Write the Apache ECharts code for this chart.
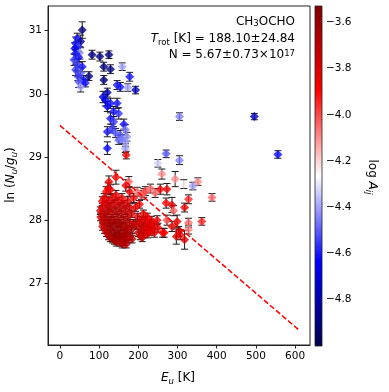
<!DOCTYPE html>
<html>
<head>
<meta charset="utf-8">
<script src="https://cdn.jsdelivr.net/npm/echarts@6/dist/echarts.min.js"></script>
<style>
html,body{margin:0;padding:0;background:#fff;}
#chart{width:389px;height:392px;}
</style>
</head>
<body>
<div id="chart"></div>
<script>
// rows: [E_u (K), ln(Nu/gu), error, log A_ij]
let upperBlue=[
    [57,31.01,0.13,-4.9],
    [44,30.88,0.08,-4.6],[53,30.83,0.10,-4.85],[40,30.80,0.10,-4.6],[47,30.75,0.08,-4.55],[38,30.72,0.09,-4.65],
    [51,30.65,0.10,-4.4],[40,30.64,0.10,-4.6],[36,30.54,0.09,-4.55],[48,30.58,0.08,-4.6],
    [44,30.46,0.09,-4.55],[57,30.43,0.08,-4.6],[40,30.38,0.09,-4.55],[53,30.33,0.08,-4.5],[46,30.28,0.07,-4.55],
    [60,30.22,0.07,-4.6],[48,30.19,0.09,-4.5],[53,30.11,0.08,-4.4],[65,30.17,0.06,-4.6],[74,30.28,0.07,-4.9],
    [82,30.62,0.07,-4.9],[102,30.59,0.07,-4.9],[125,30.62,0.06,-4.9],[112,30.43,0.07,-4.9],[129,30.39,0.07,-4.9],
    [112,30.22,0.07,-4.9],
    [159,30.43,0.06,-4.4],[178,30.27,0.07,-4.6],[154,30.11,0.07,-4.6],[173,30.10,0.06,-4.4],[193,30.06,0.06,-4.75],[146,30.14,0.07,-4.6]
];
let middleBlue=[
    [121,30.02,0.07,-4.8],[110,29.95,0.09,-4.7],[116,29.90,0.09,-4.65],[129,29.85,0.08,-4.6],[121,29.80,0.08,-4.65],
    [146,29.85,0.08,-4.6],[150,29.69,0.09,-4.55],[137,29.72,0.08,-4.6],[129,29.61,0.09,-4.6],[137,29.56,0.08,-4.55],
    [163,29.52,0.08,-4.6],[121,29.40,0.08,-4.6],[142,29.38,0.07,-4.5],[154,29.35,0.07,-4.5],[167,29.43,0.08,-4.45],
    [171,29.32,0.07,-4.4],[150,29.27,0.07,-4.5],[167,29.24,0.07,-4.4],[121,29.14,0.10,-4.62],[167,29.14,0.07,-4.4],
    [133,29.45,0.07,-4.55],[158,29.28,0.07,-4.45],[169,29.03,0.06,-3.85]
];
let outliers=[
    [250,28.90,0.06,-4.33],[271,29.05,0.06,-4.5],[305,28.95,0.07,-4.45],[305,29.64,0.06,-4.45],
    [496,29.64,0.05,-4.75],[556,29.04,0.06,-4.62],
    [243,28.43,0.07,-4.05],[256,28.49,0.08,-3.85],[260,28.73,0.08,-4.1],[262,27.80,0.07,-3.85],[266,27.80,0.07,-3.88],
    [271,28.27,0.08,-3.9],[273,28.49,0.09,-3.85],[273,28.00,0.08,-4.0],[286,28.24,0.12,-3.8],[286,27.90,0.08,-3.85],
    [290,28.15,0.08,-4.05],[294,28.65,0.12,-4.1],[297,27.74,0.12,-3.8],[299,27.98,0.10,-3.85],[303,27.82,0.08,-3.8],
    [307,27.77,0.08,-3.82],[316,28.57,0.07,-4.25],[318,28.20,0.07,-3.85],[318,27.69,0.15,-3.8],[328,28.33,0.07,-3.95],
    [328,27.96,0.07,-4.05],[328,27.85,0.07,-4.08],[339,28.54,0.06,-4.4],[352,28.61,0.06,-4.1],[362,27.98,0.06,-3.95],
    [388,28.36,0.06,-4.05]
];
let redCluster=[
    [103,28.15,0.06,-3.82],[104,28.05,0.06,-3.78],
    [108,28.30,0.07,-3.86],[108,28.20,0.06,-3.82],[108,28.00,0.06,-3.76],[109,27.90,0.06,-3.78],
    [113,28.35,0.07,-3.86],[113,28.10,0.06,-3.76],[113,27.95,0.06,-3.72],[114,27.85,0.06,-3.74],
    [118,28.45,0.08,-3.87],[118,28.25,0.06,-3.8],[118,28.05,0.06,-3.7],[119,27.80,0.06,-3.74],
    [123,28.50,0.09,-3.87],[123,28.30,0.06,-3.8],[123,28.15,0.06,-3.72],[123,27.95,0.06,-3.66],[124,27.75,0.06,-3.7],
    [125,28.61,0.09,-3.87],[129,28.48,0.08,-3.86],
    [128,28.20,0.06,-3.74],[128,28.00,0.06,-3.66],[128,27.85,0.06,-3.64],[129,27.72,0.06,-3.68],
    [133,28.35,0.07,-3.82],[133,28.10,0.06,-3.7],[133,27.90,0.06,-3.64],[134,27.70,0.06,-3.66],
    [138,28.25,0.06,-3.78],[138,28.00,0.06,-3.65],[138,27.80,0.06,-3.62],[139,27.68,0.06,-3.66],
    [143,28.68,0.11,-3.87],[143,28.40,0.07,-3.85],[143,28.15,0.06,-3.7],[143,27.95,0.06,-3.64],[144,27.75,0.06,-3.62],[144,27.65,0.06,-3.66],
    [148,28.30,0.06,-3.8],[148,28.05,0.06,-3.68],[148,27.85,0.06,-3.62],[149,27.70,0.06,-3.64],
    [153,28.20,0.06,-3.74],[153,27.95,0.06,-3.64],[153,27.78,0.06,-3.62],[154,27.65,0.06,-3.66],
    [158,28.35,0.07,-3.86],[158,28.10,0.06,-3.7],[158,27.90,0.06,-3.64],[158,27.72,0.06,-3.64],[159,27.62,0.06,-3.68],
    [163,28.25,0.06,-3.78],[163,28.00,0.06,-3.68],[163,27.80,0.06,-3.65],[164,27.66,0.06,-3.68],
    [168,28.55,0.09,-3.86],[168,28.15,0.06,-3.76],[168,27.90,0.06,-3.68],[168,27.75,0.06,-3.65],[169,27.62,0.06,-3.7],
    [173,28.30,0.07,-3.82],[173,28.05,0.06,-3.7],[173,27.85,0.06,-3.68],[174,27.70,0.06,-3.68],
    [176,28.61,0.08,-4.05],[178,28.45,0.07,-3.88],[178,28.20,0.06,-3.8],[178,27.95,0.06,-3.7],[179,27.75,0.06,-3.68],
    [183,28.10,0.06,-3.78],[183,27.85,0.06,-3.7],[184,27.70,0.06,-3.7],
    [188,28.35,0.07,-3.88],[188,27.95,0.06,-3.74],
    [193,28.20,0.06,-3.84],[194,27.92,0.06,-3.74],
    [197,28.45,0.07,-4.1],[198,28.05,0.06,-3.78],[200,27.80,0.06,-3.74],
    [203,28.25,0.06,-3.88],[203,27.95,0.06,-3.75],[205,27.75,0.06,-3.74],
    [208,28.40,0.07,-4.0],[208,28.00,0.06,-3.78],[208,27.85,0.06,-3.75],[210,27.72,0.06,-3.76],
    [214,28.43,0.07,-4.05],[213,28.10,0.06,-3.84],[213,27.90,0.06,-3.76],[214,27.78,0.06,-3.76],
    [218,28.46,0.07,-4.0],[218,28.00,0.06,-3.8],[219,27.85,0.06,-3.78],
    [223,28.05,0.06,-3.84],[223,27.90,0.06,-3.8],[224,27.78,0.06,-3.8],
    [228,27.95,0.06,-3.82],[229,27.82,0.06,-3.82],
    [231,28.50,0.07,-4.05],[233,28.00,0.06,-3.84],[234,27.85,0.06,-3.82],
    [240,27.92,0.06,-3.84],[241,27.80,0.07,-3.82],
    [248,28.00,0.07,-3.87],[250,27.88,0.07,-3.85]
];
// fitted line end points (T_rot = 188.10 K)
let fitLine=[[0,29.50],[608,26.27]];
let xTicks=[0,100,200,300,400,500,600];
let yTicks=[27,28,29,30,31];
let cbTicks=[-4.8,-4.6,-4.4,-4.2,-4.0,-3.8,-3.6];

let points=[].concat(redCluster, outliers, upperBlue, middleBlue);
let font='"DejaVu Sans", sans-serif';
let minus=v=>(v<0?'\u2212':'')+Math.abs(v).toFixed(1);
let seismic=['#00004d','#0000ff','#ffffff','#ff0000','#800000'];

let chart=echarts.init(document.getElementById('chart'));
let option={
    animation:false,
    textStyle:{fontFamily:font},
    grid:[
        {left:48, top:6, right:79, bottom:47, show:true, borderColor:'#222', borderWidth:1, backgroundColor:'transparent'},
        {left:315, top:6, width:7, height:340}
    ],
    xAxis:[
        {
            type:'value', min:-30.4, max:638, gridIndex:0,
            axisLine:{show:true, onZero:false, lineStyle:{color:'#222'}},
            axisTick:{show:true, length:3.5, customValues:xTicks, lineStyle:{color:'#222'}},
            axisLabel:{customValues:xTicks, color:'#000', fontSize:10.5, margin:6, fontFamily:font},
            splitLine:{show:false}
        },
        {type:'value', gridIndex:1, show:false, min:0, max:1}
    ],
    yAxis:[
        {
            type:'value', min:26.023, max:31.391, gridIndex:0,
            axisLine:{show:true, onZero:false, lineStyle:{color:'#222'}},
            axisTick:{show:true, length:3.5, customValues:yTicks, lineStyle:{color:'#222'}},
            axisLabel:{customValues:yTicks, color:'#000', fontSize:10.5, margin:6, fontFamily:font},
            splitLine:{show:false}
        },
        {
            type:'value', min:-5.002, max:-3.528, gridIndex:1, position:'right',
            axisLine:{show:false},
            axisTick:{show:true, length:3, customValues:cbTicks, lineStyle:{color:'#222'}},
            axisLabel:{customValues:cbTicks, color:'#000', fontSize:10.5, margin:4, fontFamily:font, formatter:minus},
            splitLine:{show:false}
        }
    ],
    visualMap:{
        show:false, type:'continuous', min:-5.002, max:-3.528, dimension:3, seriesIndex:1,
        inRange:{color:seismic}
    },
    series:[
        {
            type:'custom',
            xAxisIndex:0, yAxisIndex:0,
            data:points,
            z:1,
            renderItem:function(params, api){
                let x=api.value(0), y=api.value(1), e=api.value(2);
                let top=api.coord([x, y+e]);
                let bot=api.coord([x, y-e]);
                let hw=3.5;
                let st={stroke:'#1a1a1a', lineWidth:1};
                return {type:'group', children:[
                    {type:'line', shape:{x1:top[0], y1:top[1], x2:bot[0], y2:bot[1]}, style:st},
                    {type:'line', shape:{x1:top[0]-hw, y1:top[1], x2:top[0]+hw, y2:top[1]}, style:st},
                    {type:'line', shape:{x1:bot[0]-hw, y1:bot[1], x2:bot[0]+hw, y2:bot[1]}, style:st}
                ]};
            }
        },
        {
            type:'scatter',
            xAxisIndex:0, yAxisIndex:0,
            symbol:'diamond', symbolSize:9,
            data:points,
            z:2
        },
        {
            type:'line',
            xAxisIndex:0, yAxisIndex:0,
            data:fitLine,
            symbol:'none',
            lineStyle:{color:'#ff0000', width:1.5, type:[5.5,2.4]},
            z:3
        }
    ],
    graphic:[
        {
            type:'rect', z:5,
            shape:{x:315, y:6, width:7, height:340},
            style:{
                fill:new echarts.graphic.LinearGradient(0,0,0,1,[
                    {offset:0, color:'#800000'},
                    {offset:0.25, color:'#ff0000'},
                    {offset:0.5, color:'#ffffff'},
                    {offset:0.75, color:'#0000ff'},
                    {offset:1, color:'#00004d'}
                ]),
                stroke:'#222', lineWidth:0.8
            }
        },
        {
            type:'text', z:5, x:295, y:22,
            style:{
                text:'CH{s|3}OCHO', align:'right', verticalAlign:'middle',
                font:'12px '+font, fill:'#000',
                rich:{s:{fontSize:8.5, fontFamily:font, verticalAlign:'bottom', lineHeight:9}}
            }
        },
        {
            type:'text', z:5, x:295, y:39,
            style:{
                text:'{i|T}{s|rot} [K] = 188.10\u00b124.84', align:'right', verticalAlign:'middle',
                font:'12px '+font, fill:'#000',
                rich:{
                    i:{fontSize:12, fontFamily:font, fontStyle:'italic', lineHeight:16},
                    s:{fontSize:8.5, fontFamily:font, verticalAlign:'bottom', lineHeight:9}
                }
            }
        },
        {
            type:'text', z:5, x:295, y:55,
            style:{
                text:'N = 5.67\u00b10.73\u00d710{p|17}', align:'right', verticalAlign:'middle',
                font:'12px '+font, fill:'#000',
                rich:{p:{fontSize:8.5, fontFamily:font, verticalAlign:'top', lineHeight:9}}
            }
        },
        {
            type:'text', z:5, x:178, y:378,
            style:{
                text:'{i|E}{s|u} [K]', align:'center', verticalAlign:'middle',
                font:'12px '+font, fill:'#000',
                rich:{
                    i:{fontSize:12, fontFamily:font, fontStyle:'italic', lineHeight:16},
                    s:{fontSize:8.5, fontFamily:font, fontStyle:'italic', verticalAlign:'bottom', lineHeight:9}
                }
            }
        },
        {
            type:'text', z:5, x:11, y:175, rotation:Math.PI/2,
            style:{
                text:'ln ({i|N}{s|u}/{i|g}{s|u})', align:'center', verticalAlign:'middle',
                font:'12px '+font, fill:'#000',
                rich:{
                    i:{fontSize:12, fontFamily:font, fontStyle:'italic', lineHeight:16},
                    s:{fontSize:8.5, fontFamily:font, fontStyle:'italic', verticalAlign:'bottom', lineHeight:9}
                }
            }
        },
        {
            type:'text', z:5, x:372, y:177, rotation:-Math.PI/2,
            style:{
                text:'log {i|A}{s|ij}', align:'center', verticalAlign:'middle',
                font:'12px '+font, fill:'#000',
                rich:{
                    i:{fontSize:12, fontFamily:font, fontStyle:'italic', lineHeight:16},
                    s:{fontSize:8.5, fontFamily:font, fontStyle:'italic', verticalAlign:'bottom', lineHeight:9}
                }
            }
        }
    ]
};
chart.setOption(option);
</script>
</body>
</html>
